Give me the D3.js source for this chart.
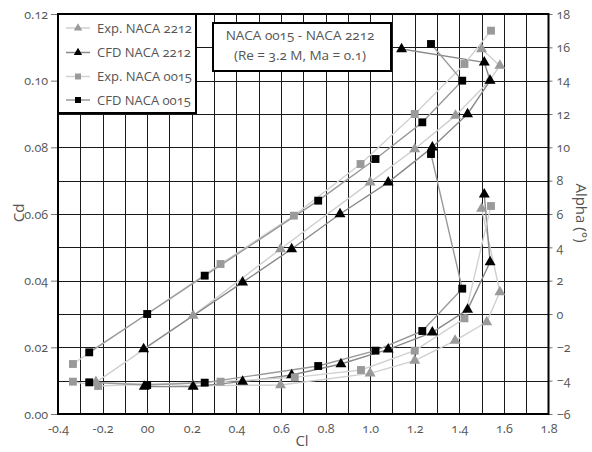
<!DOCTYPE html>
<html>
<head>
<meta charset="utf-8">
<script src="https://cdn.jsdelivr.net/npm/d3@7"></script>
<style>
  html, body { margin: 0; padding: 0; background: #fff; }
  svg text { font-family: "Open Sans", "Noto Sans", sans-serif; font-feature-settings: "onum" 1; fill: #555; }
</style>
</head>
<body>
<svg id="chart" width="592" height="452"></svg>
<script>
// Axis ticks
const clTicks = [-0.4, -0.2, 0, 0.2, 0.4, 0.6, 0.8, 1.0, 1.2, 1.4, 1.6, 1.8];
const clTickLabels = ["-0.4", "-0.2", "00", "0.2", "0.4", "0.6", "0.8", "1.0", "1.2", "1.4", "1.6", "1.8"];
const cdTicks = [0, 0.02, 0.04, 0.06, 0.08, 0.10, 0.12];
const cdTickLabels = ["0.00", "0.02", "0.04", "0.06", "0.08", "0.10", "0.12"];
const alphaTicks = [-6, -4, -2, 0, 2, 4, 6, 8, 10, 12, 14, 16, 18];

// Lift curves: Cl against angle of attack (right axis)
const expNaca2212LiftCl    = [-0.23, 0.206, 0.598, 1.0, 1.2, 1.383, 1.535, 1.582, 1.5];
const expNaca2212LiftAlpha = [-4.1, -0.1, 3.9, 7.9, 9.9, 11.9, 14.0, 14.9, 15.9];
const cfdNaca2212LiftCl    = [-0.016, 0.428, 0.648, 0.865, 1.081, 1.279, 1.437, 1.538, 1.512, 1.141];
const cfdNaca2212LiftAlpha = [-2.1, 1.9, 3.9, 6.0, 7.9, 10.0, 12.0, 14.0, 15.1, 15.9];
const expNaca0015LiftCl    = [-0.333, 0.329, 0.658, 0.957, 1.2, 1.423, 1.542];
const expNaca0015LiftAlpha = [-3.0, 3.0, 5.9, 9.0, 12.0, 15.0, 17.0];
const cfdNaca0015LiftCl    = [-0.26, 0.0, 0.258, 0.767, 1.024, 1.234, 1.413, 1.273];
const cfdNaca0015LiftAlpha = [-2.3, 0.0, 2.3, 6.8, 9.3, 11.5, 14.0, 16.2];

// Drag polars: Cd against Cl (left axis)
const expNaca2212DragCl = [-0.23, 0.206, 0.598, 1.0, 1.2, 1.381, 1.523, 1.582, 1.5];
const expNaca2212DragCd = [0.0095, 0.0085, 0.0087, 0.0122, 0.016, 0.022, 0.0276, 0.0366, 0.0616];
const cfdNaca2212DragCl = [-0.013, 0.206, 0.428, 0.648, 0.869, 1.081, 1.279, 1.437, 1.538, 1.512];
const cfdNaca2212DragCd = [0.0082, 0.0082, 0.0097, 0.0117, 0.015, 0.0194, 0.0245, 0.0313, 0.0456, 0.0659];
const expNaca0015DragCl = [-0.333, -0.22, 0.329, 0.662, 0.959, 1.2, 1.423, 1.542];
const expNaca0015DragCd = [0.0097, 0.0084, 0.0097, 0.011, 0.0132, 0.019, 0.0287, 0.0624];
const cfdNaca0015DragCl = [-0.26, 0.0, 0.258, 0.767, 1.024, 1.234, 1.413, 1.273];
const cfdNaca0015DragCd = [0.0095, 0.0087, 0.0094, 0.0144, 0.019, 0.0249, 0.0376, 0.078];

const seriesNames = ["Exp. NACA 2212", "CFD NACA 2212", "Exp. NACA 0015", "CFD NACA 0015"];

const zip = (a, b) => a.map((v, i) => [v, b[i]]);
const series = [
  { name: seriesNames[0], shape: d3.symbolTriangle, fill: "#9a9a9a", line: "#cfcfcf",
    lift: zip(expNaca2212LiftCl, expNaca2212LiftAlpha), drag: zip(expNaca2212DragCl, expNaca2212DragCd) },
  { name: seriesNames[1], shape: d3.symbolTriangle, fill: "#000", line: "#8a8a8a",
    lift: zip(cfdNaca2212LiftCl, cfdNaca2212LiftAlpha), drag: zip(cfdNaca2212DragCl, cfdNaca2212DragCd) },
  { name: seriesNames[2], shape: d3.symbolSquare, fill: "#9a9a9a", line: "#d2d2d2",
    lift: zip(expNaca0015LiftCl, expNaca0015LiftAlpha), drag: zip(expNaca0015DragCl, expNaca0015DragCd) },
  { name: seriesNames[3], shape: d3.symbolSquare, fill: "#000", line: "#9a9a9a",
    lift: zip(cfdNaca0015LiftCl, cfdNaca0015LiftAlpha), drag: zip(cfdNaca0015DragCl, cfdNaca0015DragCd) }
];

const L = 58, R = 548.5, T = 14, B = 414;
const x = d3.scaleLinear().domain([-0.4, 1.8]).range([L, R]);
const yCd = d3.scaleLinear().domain([0, 0.12]).range([B, T]);
const yAlpha = d3.scaleLinear().domain([-6, 18]).range([B, T]);

const svg = d3.select("#chart");

svg.append("defs").append("clipPath").attr("id", "plotClip")
  .append("rect").attr("x", L).attr("y", T).attr("width", R - L).attr("height", B - T);

// Grid: every 0.1 in Cl, every 0.01 in Cd
const grid = svg.append("g").attr("stroke", "#1a1a1a").attr("stroke-width", 1);
grid.selectAll("line.v").data(d3.range(-3, 18).map(i => i / 10))
  .join("line").attr("class", "v")
  .attr("x1", d => Math.round(x(d)) + 0.5).attr("x2", d => Math.round(x(d)) + 0.5)
  .attr("y1", T).attr("y2", B);
grid.selectAll("line.h").data(d3.range(1, 12).map(i => i / 100))
  .join("line").attr("class", "h")
  .attr("y1", d => Math.round(yCd(d)) + 0.5).attr("y2", d => Math.round(yCd(d)) + 0.5)
  .attr("x1", L).attr("x2", R);

// Axes
const fontSize = 12.5;
const axisBottom = svg.append("g").attr("transform", `translate(0,${B})`)
  .call(d3.axisBottom(x).tickValues(clTicks).tickSize(0).tickPadding(10)
    .tickFormat((d, i) => clTickLabels[i]));
const axisLeft = svg.append("g").attr("transform", `translate(${L},0)`)
  .call(d3.axisLeft(yCd).tickValues(cdTicks).tickSize(7).tickPadding(3)
    .tickFormat((d, i) => cdTickLabels[i]));
const axisRight = svg.append("g").attr("transform", `translate(${R},0)`)
  .call(d3.axisRight(yAlpha).tickValues(alphaTicks).tickSize(4).tickPadding(4));
[axisBottom, axisLeft, axisRight].forEach(g => {
  g.select(".domain").remove();
  g.selectAll(".tick line").attr("stroke", "#777");
  g.selectAll("text").attr("font-size", fontSize).attr("fill", "#555");
});

// Axis titles
svg.append("text").attr("transform", "translate(24,213) rotate(-90)")
  .attr("text-anchor", "middle").attr("font-size", 15).text("Cd");
svg.append("text").attr("x", 302).attr("y", 446)
  .attr("text-anchor", "middle").attr("font-size", 15).text("Cl");
svg.append("text").attr("transform", "translate(576,213) rotate(90)")
  .attr("text-anchor", "middle").attr("font-size", 15).text("Alpha (°)");

// Curves and markers (straight segments between measured points)
const plot = svg.append("g").attr("clip-path", "url(#plotClip)");
const liftLine = d3.line().x(d => x(d[0])).y(d => yAlpha(d[1]));
const dragLine = d3.line().x(d => x(d[0])).y(d => yCd(d[1]));

series.forEach(s => {
  const g = plot.append("g");
  g.append("path").attr("d", liftLine(s.lift)).attr("fill", "none")
    .attr("stroke", s.line).attr("stroke-width", 1.4).attr("stroke-linejoin", "round");
  g.append("path").attr("d", dragLine(s.drag)).attr("fill", "none")
    .attr("stroke", s.line).attr("stroke-width", 1.4).attr("stroke-linejoin", "round");
});
series.forEach(s => {
  const sym = d3.symbol().type(s.shape).size(s.shape === d3.symbolSquare ? 62 : 52);
  const g = svg.append("g").attr("fill", s.fill);
  g.selectAll("path.lift").data(s.lift).join("path").attr("class", "lift")
    .attr("transform", d => `translate(${x(d[0])},${yAlpha(d[1])})`).attr("d", sym);
  g.selectAll("path.drag").data(s.drag).join("path").attr("class", "drag")
    .attr("transform", d => `translate(${x(d[0])},${yCd(d[1])})`).attr("d", sym);
});

// Plot frame
svg.append("rect").attr("x", L).attr("y", T).attr("width", R - L).attr("height", B - T)
  .attr("fill", "none").attr("stroke", "#000").attr("stroke-width", 2);

// Legend
const lg = svg.append("g");
lg.append("rect").attr("x", L).attr("y", T).attr("width", 138).attr("height", 99)
  .attr("fill", "#fff").attr("stroke", "#000").attr("stroke-width", 2);
const rowY = [28, 52.5, 76.5, 100];
series.forEach((s, i) => {
  const r = lg.append("g").attr("transform", `translate(0,${rowY[i]})`);
  r.append("line").attr("x1", 66).attr("x2", 90).attr("y1", 0).attr("y2", 0)
    .attr("stroke", s.line).attr("stroke-width", 1.5);
  r.append("path").attr("transform", "translate(78,0)")
    .attr("d", d3.symbol().type(s.shape).size(s.shape === d3.symbolSquare ? 36 : 30))
    .attr("fill", s.fill);
  r.append("text").attr("x", 97).attr("y", 0).attr("dy", "0.35em")
    .attr("font-size", 13).text(s.name);
});

// Title box
const tb = svg.append("g");
tb.append("rect").attr("x", 213).attr("y", 23).attr("width", 178).attr("height", 48)
  .attr("fill", "#fff").attr("stroke", "#000").attr("stroke-width", 2);
tb.append("text").attr("x", 300).attr("y", 35).attr("dy", "0.35em")
  .attr("text-anchor", "middle").attr("font-size", 13.5).text("NACA 0015 - NACA 2212");
tb.append("text").attr("x", 300).attr("y", 55).attr("dy", "0.35em")
  .attr("text-anchor", "middle").attr("font-size", 13.5).text("(Re = 3.2 M, Ma = 0.1)");
</script>
</body>
</html>
